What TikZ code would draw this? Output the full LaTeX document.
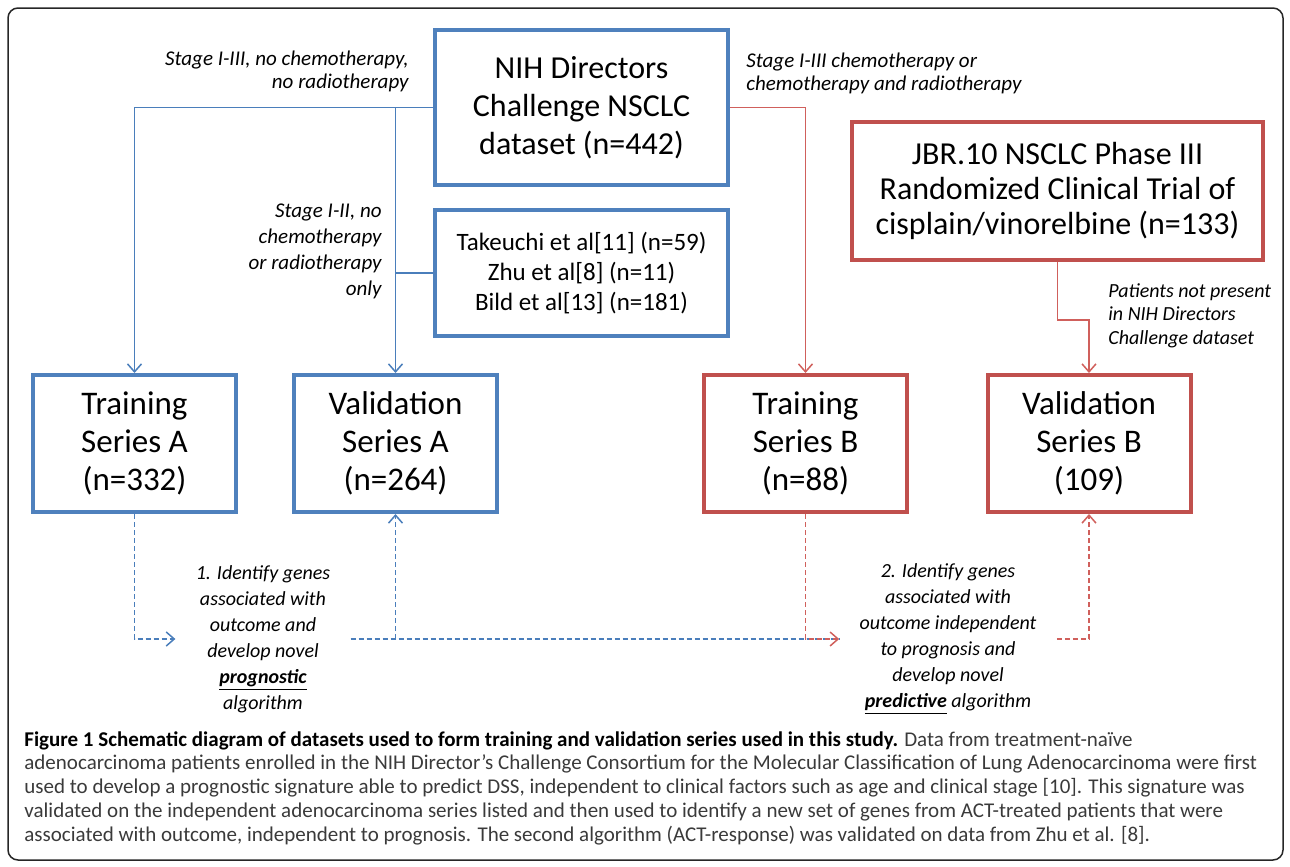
\documentclass[tikz,border=0pt]{standalone}
\usepackage{fontspec}
\setmainfont{Carlito}
\usetikzlibrary{arrows.meta}
\definecolor{boxblue}{HTML}{4F81BD}
\definecolor{boxred}{HTML}{C0504D}
\definecolor{lineblue}{HTML}{4A7EBB}
\definecolor{linered}{HTML}{D0605C}
\definecolor{capgray}{HTML}{3A3A3A}

\begin{document}
\begin{tikzpicture}[x=0.5pt,y=-0.5pt,->,>={Straight Barb[length=4pt,width=7pt]},
        blue box/.style={draw=boxblue,line width=2pt,fill=white,align=center,inner sep=0pt,
            font=\fontsize{16}{19}\selectfont},
        red box/.style={blue box,draw=boxred},
        series/.style={minimum width=101.5pt,minimum height=68.5pt,font=\fontsize{16.5}{19}\selectfont},
        note/.style={inner sep=0pt,font=\fontsize{10.5}{11.5}\selectfont\itshape},
        algo/.style={align=center,inner xsep=10pt,inner ysep=3pt,font=\fontsize{10}{13}\selectfont\itshape},
        bline/.style={lineblue,line width=0.75pt},
        rline/.style={linered,line width=0.75pt},
        bdash/.style={bline,dash pattern=on 2.5pt off 1.5pt},
        rdash/.style={rline,dash pattern=on 2.5pt off 1.5pt},
        hv/.style={to path={-| (\tikztotarget)}},
        vh/.style={to path={|- (\tikztotarget)}},
        jog/.style={to path={-- ++(0,58) -| (\tikztotarget)}}]
            \useasboundingbox (0,0) rectangle (1290,867);
            \draw[-,line width=0.75pt,rounded corners=5pt,black!85] (8,8) rectangle (1283,860);

            \node (1) [blue box,minimum width=146.5pt,minimum height=77.5pt] at (581.5,107.5) {NIH Directors\\Challenge NSCLC\\dataset (n=442)};
            \node (2) [blue box,below of=1,node distance=82.75pt,minimum width=146.5pt,minimum height=63pt,
                font=\fontsize{12.5}{15}\selectfont] {Takeuchi et al[11] (n=59)\\Zhu et al[8] (n=11)\\Bild et al[13] (n=181)};
            \node (4) [blue box,series] at (395.5,443.5) {Validation\\Series A\\(n=264)};
            \node (3) [blue box,series,left of=4,node distance=130.5pt] {Training\\Series A\\(n=332)};
            \node (5) [red box,series,right of=4,node distance=205pt] {Training\\Series B\\(n=88)};
            \node (6) [red box,series,right of=5,node distance=141.75pt] {Validation\\Series B\\(109)};
            \node (7) [red box,minimum width=205.5pt,minimum height=69pt,font=\fontsize{16}{17.5}\selectfont] at (1057.5,191)
                {JBR.10 NSCLC Phase III\\Randomized Clinical Trial of\\cisplain/vinorelbine (n=133)};
            \node (8) [algo] at (263,639) {1. Identify genes\\associated with\\outcome and\\develop novel\\\underline{\textbf{prognostic}}\\algorithm};
            \node (9) [algo] at (948,639) {2. Identify genes\\associated with\\outcome independent\\to prognosis and\\develop novel\\\underline{\textbf{predictive}} algorithm};

            \node (10) [note,align=right,anchor=east] at (409,71.5) {Stage I-III, no chemotherapy,\\no radiotherapy};
            \node (11) [note,align=left,anchor=west] at (746,73.5) {Stage I-III chemotherapy or\\chemotherapy and radiotherapy};
            \node (12) [note,align=right,anchor=east,font=\fontsize{10.5}{13}\selectfont\itshape] at (382,251) {Stage I-II, no\\chemotherapy\\or radiotherapy\\only};
            \node (13) [note,align=left,anchor=west,font=\fontsize{10}{11.75}\selectfont\itshape] at (1108,315.5) {Patients not present\\in NIH Directors\\Challenge dataset};
            \node (14) [anchor=north west,align=left,inner sep=0pt,text=capgray,font=\fontsize{10.5}{11.9}\selectfont] at (24,731)
                {\textcolor{black}{\textbf{Figure 1 Schematic diagram of datasets used to form training and validation series used in this study.}} Data from treatment-naïve\\
                adenocarcinoma patients enrolled in the NIH Director's Challenge Consortium for the Molecular Classification of Lung Adenocarcinoma were first\\
                used to develop a prognostic signature able to predict DSS, independent to clinical factors such as age and clinical stage [10]. This signature was\\
                validated on the independent adenocarcinoma series listed and then used to identify a new set of genes from ACT-treated patients that were\\
                associated with outcome, independent to prognosis. The second algorithm (ACT-response) was validated on data from Zhu et al. [8].};

            \path
            (1.west) edge[bline,hv] (3.north)
            (1.west -| 4.north) edge[bline] (4.north)
            (2.west) edge[bline,-] (2.west -| 4.north)
            (1.east) edge[rline,hv] (5.north)
            (7.south) edge[rline,jog] (6.north)
            (8.east) edge[bdash,-] (9.west)
            (3.south) edge[bdash,vh] (8.west)
            (8.east -| 4.south) edge[bdash] (4.south)
            (5.south) edge[rdash,vh] (9.west)
            (9.east) edge[rdash,hv] (6.south);

        \end{tikzpicture}
\end{document}
